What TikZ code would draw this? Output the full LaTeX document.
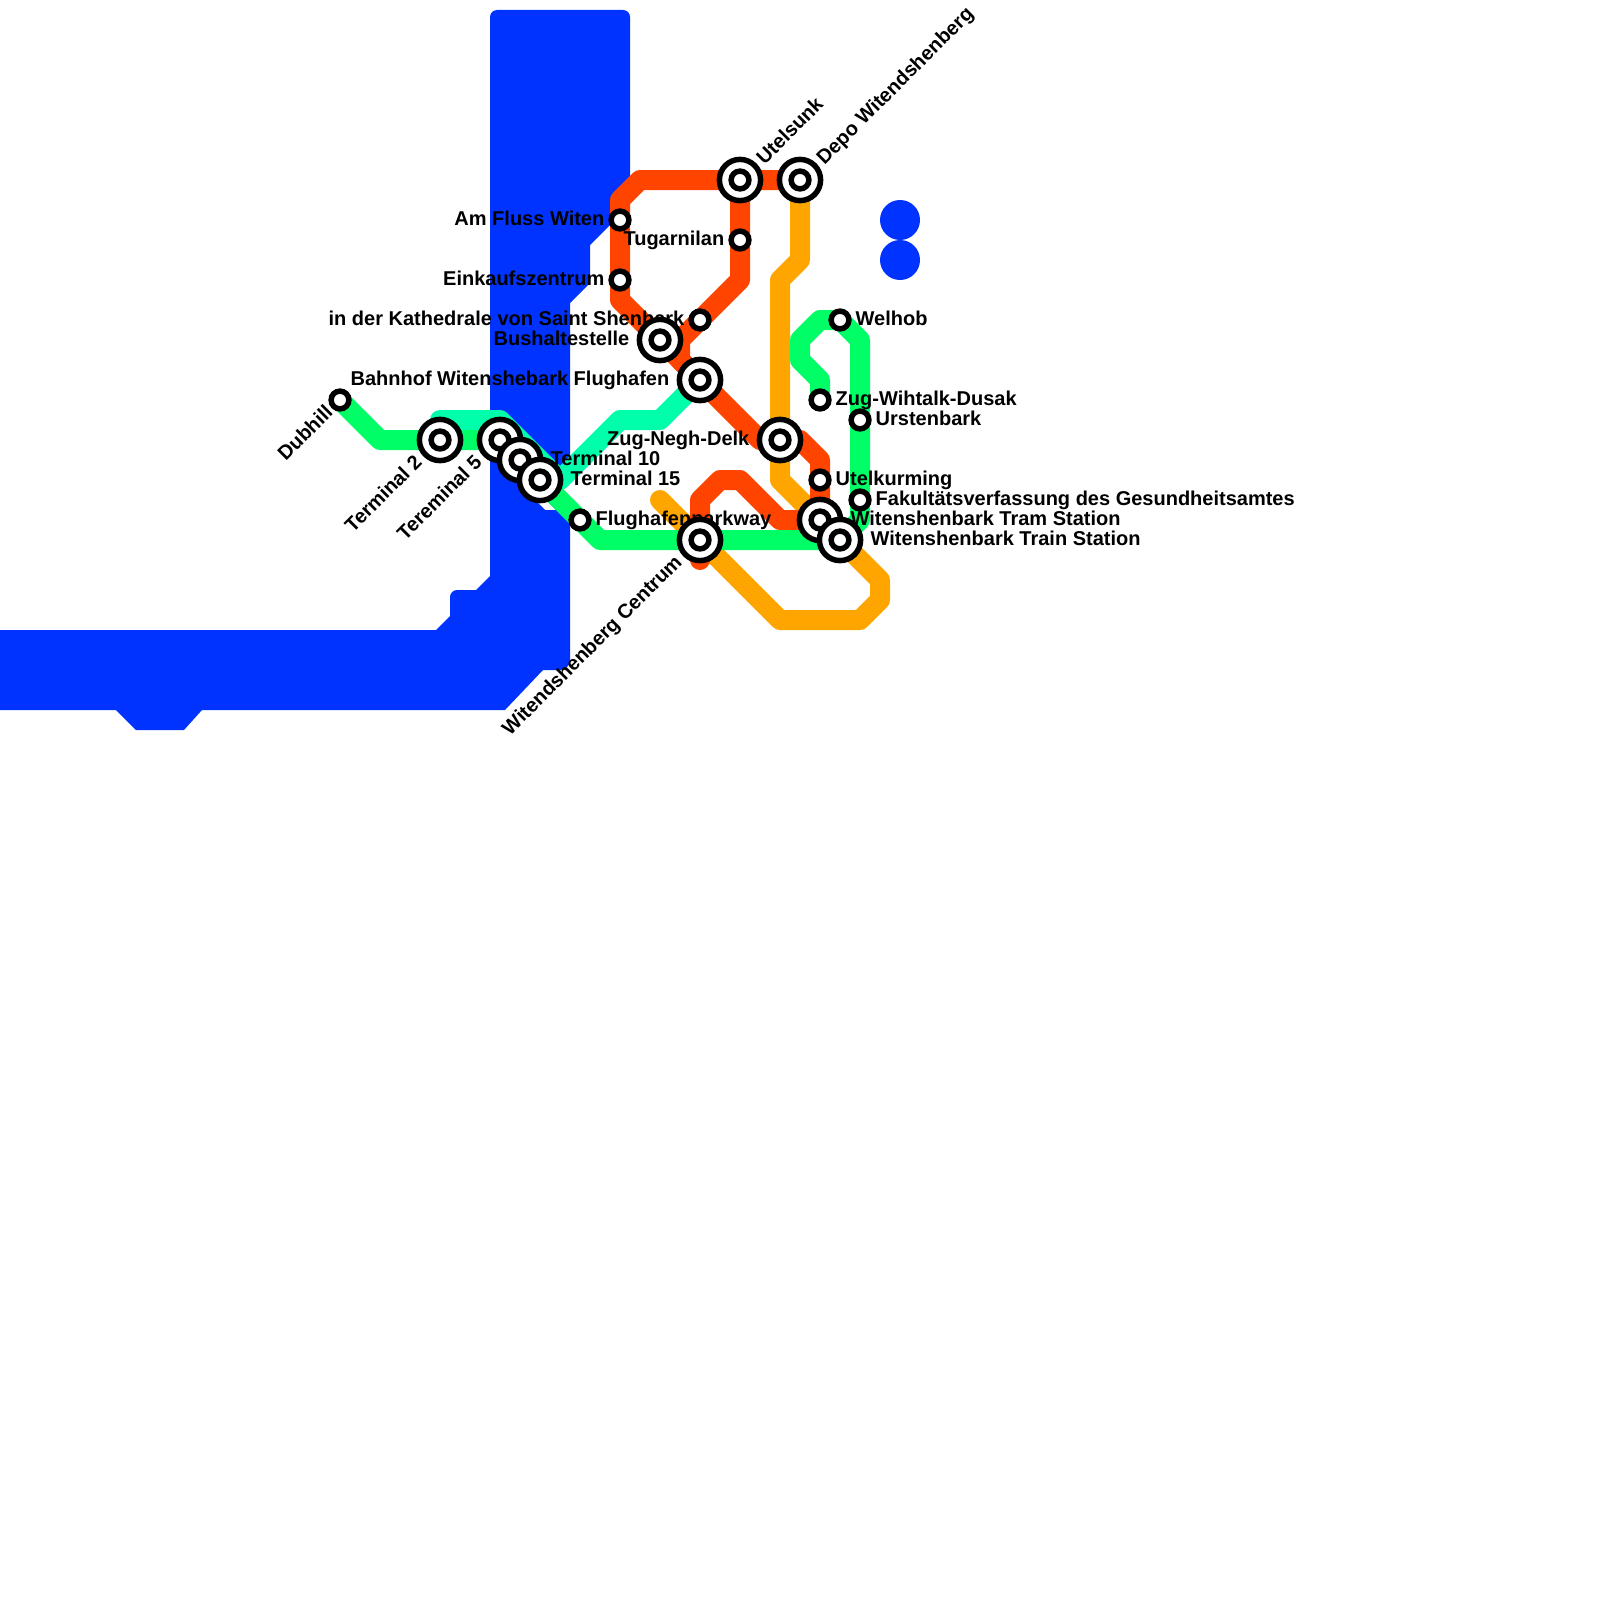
\documentclass[tikz,border=0pt]{standalone}
\usepackage{fontspec}
\setmainfont{Liberation Sans}
\pgfdeclarelayer{lines}
\pgfdeclarelayer{labels}
\pgfsetlayers{lines,labels,main}
\definecolor{wblue}{HTML}{0033FF}
\definecolor{wred}{HTML}{FF4400}
\definecolor{worange}{HTML}{FFA500}
\definecolor{wgreen}{HTML}{00FF66}
\definecolor{wteal}{HTML}{00FFAA}
\tikzset{
  route/.style={line width=20pt,line cap=round,line join=round},
  water/.style={fill=wblue,draw=none},
  lake/.style={circle,fill=wblue,draw=none,minimum size=40pt,inner sep=0pt},
  stop/.style={circle,draw=black,fill=white,line width=5.5pt,minimum size=17.8pt,inner sep=0pt,outer sep=0pt},
  hub/.style={circle,draw=black,fill=white,line width=5.5pt,minimum size=41.2pt,inner sep=0pt,outer sep=0pt},
  txt/.style={font=\bfseries\fontsize{20}{20}\selectfont,inner sep=0pt,text=black},
  lblR/.style={txt,anchor=base west,xshift=15.5pt,yshift=-5.2pt},
  lblL/.style={txt,anchor=base east,xshift=-15.5pt,yshift=-5.2pt},
  lblHR/.style={txt,anchor=base west,xshift=30.5pt,yshift=-5.2pt},
  lblHL/.style={txt,anchor=base east,xshift=-30.5pt,yshift=-5.2pt},
  lblUR/.style={txt,anchor=base west,rotate=45,xshift=27.6pt,yshift=-6.9pt},
  lblDL/.style={txt,anchor=base east,rotate=45,xshift=-28.5pt,yshift=-4.5pt},
  lblSDL/.style={txt,anchor=base east,rotate=45,xshift=-14pt,yshift=-5.5pt},
}
\newcommand{\hubst}[3]{\node[hub] (#1) at (#2,#3) {}; \node[stop] (#1-c) at (#2,#3) {};}
\newcommand{\stopst}[3]{\node[stop] (#1) at (#2,#3) {};}
\begin{document}
\begin{tikzpicture}[x=1pt,y=-1pt]
\useasboundingbox (0,0) rectangle (1600,1600);
% stations (order: later ones on top)
\stopst{dubhill}{340}{400}
\hubst{term2}{440}{440}
\hubst{term5}{500}{440}
\hubst{term10}{520}{460}
\hubst{term15}{540}{480}
\stopst{parkway}{580}{520}
\stopst{fluss}{620}{220}
\stopst{einkauf}{620}{280}
\stopst{kathedrale}{700}{320}
\hubst{bus}{660}{340}
\hubst{flughafen}{700}{380}
\stopst{tugarnilan}{740}{240}
\hubst{utelsunk}{740}{180}
\hubst{depo}{800}{180}
\hubst{negh}{780}{440}
\hubst{centrum}{700}{540}
\stopst{welhob}{840}{320}
\stopst{wihtalk}{820}{400}
\stopst{urstenbark}{860}{420}
\stopst{utelkurming}{820}{480}
\stopst{fakultaet}{860}{500}
\hubst{tram}{820}{520}
\hubst{train}{840}{540}
\begin{pgfonlayer}{lines}
% water
\fill[water,even odd rule]
  [rounded corners=7pt] (490,300) -- (490,10) -- (630,10) -- (630,100)
  [sharp corners] -- (630,205) -- (590,245) -- (590,283) -- (570,303) -- (570,470) -- (556,484) -- (570,498)
  [rounded corners=10pt] -- (570,670)
  [sharp corners] -- (543,670) -- (505,710) -- (202,710) -- (184,730) -- (136,730) -- (116,710) -- (0,710) -- (0,630) -- (436,630) -- (450,616)
  [rounded corners=7pt] -- (450,590)
  [sharp corners] -- (476,590) -- (490,576) -- cycle
  (545,510) -- (556,510) -- (530,484) -- (525,490) -- cycle;
\node[lake] (lakeA) at (900,220) {};
\node[lake] (lakeB) at (900,260) {};
% routes
\draw[route,worange] (660,500) -- (centrum.center) -- (780,620) -- (860,620) -- (880,600) -- (880,580) -- (train.center) -- (tram.center) -- (780,480) -- (negh.center) -- (780,280) -- (800,260) -- (depo.center);
\draw[route,wred] (centrum.center) ++(0,20) -- (centrum.center) -- (700,500) -- (720,480) -- (740,480) -- (780,520) -- (tram.center) -- (utelkurming.center) -- (820,460) -- (800,440) -- (negh.center) -- (760,440) -- (flughafen.center) -- (bus.center) -- (620,300) -- (einkauf.center) -- (fluss.center) -- (620,200) -- (640,180) -- (utelsunk.center) -- (depo.center);
\draw[route,wred] (flughafen.center) -- (680,360) -- (680,340) -- (740,280) -- (tugarnilan.center) -- (utelsunk.center);
\draw[route,wteal] (term2.center) -- (440,420) -- (500,420) -- (560,480) -- (620,420) -- (660,420) -- (flughafen.center);
\draw[route,wgreen] (dubhill.center) -- (380,440) -- (term2.center) -- (term5.center) -- (term10.center) -- (term15.center) -- (parkway.center) -- (600,540) -- (centrum.center) -- (train.center);
\draw[route,wgreen] (wihtalk.center) -- (820,380) -- (800,360) -- (800,340) -- (820,320) -- (welhob.center) -- (860,340) -- (urstenbark.center) -- (fakultaet.center) -- (860,520) -- (train.center);
\end{pgfonlayer}
\begin{pgfonlayer}{labels}
\node[lblSDL] (l1) at (dubhill.center) {Dubhill};
\node[lblDL] (l2) at (term2.center) {Terminal 2};
\node[lblDL] (l3) at (term5.center) {Tereminal 5};
\node[lblHR] (l4) at (term10.center) {Terminal 10};
\node[lblHR] (l5) at (term15.center) {Terminal 15};
\node[lblR] (l6) at (parkway.center) {Flughafenparkway};
\node[lblL] (l7) at (fluss.center) {Am Fluss Witen};
\node[lblL] (l8) at (einkauf.center) {Einkaufszentrum};
\node[lblL] (l9) at (kathedrale.center) {in der Kathedrale von Saint Shenbark};
\node[lblHL] (l10) at (bus.center) {Bushaltestelle};
\node[lblHL] (l11) at (flughafen.center) {Bahnhof Witenshebark Flughafen};
\node[lblL] (l12) at (tugarnilan.center) {Tugarnilan};
\node[lblUR] (l13) at (utelsunk.center) {Utelsunk};
\node[lblUR] (l14) at (depo.center) {Depo Witendshenberg};
\node[lblHL] (l15) at (negh.center) {Zug-Negh-Delk};
\node[lblDL] (l16) at (centrum.center) {Witendshenberg Centrum};
\node[lblR] (l17) at (welhob.center) {Welhob};
\node[lblR] (l18) at (wihtalk.center) {Zug-Wihtalk-Dusak};
\node[lblR] (l19) at (urstenbark.center) {Urstenbark};
\node[lblR] (l20) at (utelkurming.center) {Utelkurming};
\node[lblR] (l21) at (fakultaet.center) {Fakultätsverfassung des Gesundheitsamtes};
\node[lblHR] (l22) at (tram.center) {Witenshenbark Tram Station};
\node[lblHR] (l23) at (train.center) {Witenshenbark Train Station};
\end{pgfonlayer}
\end{tikzpicture}
\end{document}
